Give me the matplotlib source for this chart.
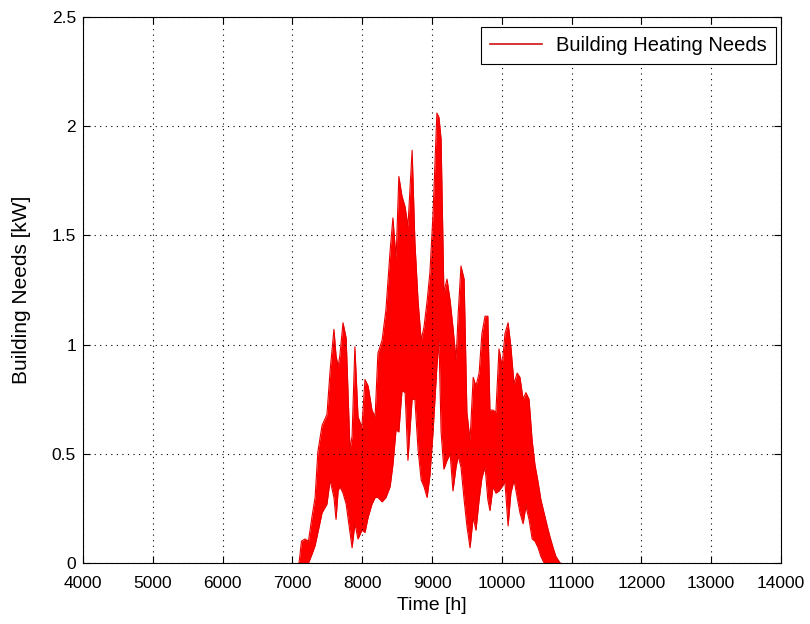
import matplotlib
matplotlib.use("Agg")
import matplotlib.pyplot as plt
from matplotlib.lines import Line2D

# envelope of the dense hourly signal
time_h = [7095, 7130, 7180, 7230, 7280, 7325, 7365, 7425, 7495, 7540,
          7595, 7625, 7655, 7680, 7725, 7770, 7825, 7855, 7895, 7940,
          7995, 8040, 8085, 8140, 8185, 8225, 8285, 8340, 8400, 8440,
          8485, 8525, 8570, 8615, 8655, 8715, 8755, 8800, 8845, 8885,
          8930, 8970, 9015, 9070, 9100, 9130, 9170, 9215, 9260, 9300,
          9345, 9375, 9415, 9460, 9500, 9545, 9590, 9630, 9675, 9715,
          9760, 9800, 9830, 9875, 9915, 9960, 10005, 10045, 10090, 10130,
          10175, 10220, 10260, 10305, 10345, 10390, 10435, 10475, 10520, 10560,
          10605, 10650, 10690, 10735, 10775, 10835]
upper_kw = [0.00, 0.10, 0.11, 0.10, 0.21, 0.30, 0.51, 0.63, 0.68, 0.88,
            1.07, 0.95, 0.90, 0.95, 1.10, 1.03, 0.52, 0.58, 0.99, 0.67,
            0.62, 0.84, 0.81, 0.70, 0.67, 0.96, 1.02, 1.16, 1.43, 1.58,
            1.39, 1.77, 1.68, 1.63, 1.54, 1.89, 1.47, 1.20, 1.02, 1.08,
            1.20, 1.33, 1.60, 2.06, 2.04, 1.94, 1.24, 1.30, 1.20, 1.08,
            0.93, 1.14, 1.36, 1.30, 0.69, 0.56, 0.85, 0.81, 0.87, 1.05,
            1.13, 1.13, 0.70, 0.70, 0.69, 0.98, 0.90, 1.05, 1.10, 0.99,
            0.82, 0.87, 0.85, 0.75, 0.78, 0.75, 0.56, 0.45, 0.37, 0.29,
            0.23, 0.17, 0.12, 0.07, 0.03, 0.00]
lower_kw = [0.00, 0.00, 0.00, 0.00, 0.04, 0.08, 0.14, 0.23, 0.27, 0.38,
            0.30, 0.20, 0.33, 0.35, 0.32, 0.27, 0.14, 0.07, 0.18, 0.11,
            0.15, 0.14, 0.21, 0.27, 0.30, 0.30, 0.28, 0.30, 0.35, 0.45,
            0.61, 0.60, 0.79, 0.78, 0.47, 0.75, 0.75, 0.52, 0.38, 0.35,
            0.30, 0.40, 0.60, 0.90, 1.02, 0.60, 0.43, 0.47, 0.50, 0.33,
            0.44, 0.49, 0.44, 0.29, 0.17, 0.07, 0.21, 0.15, 0.29, 0.39,
            0.44, 0.29, 0.24, 0.35, 0.32, 0.33, 0.35, 0.37, 0.17, 0.32,
            0.38, 0.30, 0.23, 0.18, 0.26, 0.20, 0.11, 0.10, 0.07, 0.03,
            0.00, 0.00, 0.00, 0.00, 0.00, 0.00]

xticks = [4000, 5000, 6000, 7000, 8000, 9000, 10000, 11000, 12000, 13000, 14000]
yticks = [0, 0.5, 1, 1.5, 2, 2.5]
ytick_labels = ["0", "0.5", "1", "1.5", "2", "2.5"]

plt.rcParams['font.family'] = ["Liberation Sans", "DejaVu Sans"]

fig = plt.figure(figsize=(8.1, 6.24), dpi=100)
ax = fig.add_axes([83/810, 1-563/624, (781-83)/810, (563-17)/624])

ax.fill_between(time_h, lower_kw, upper_kw, color="#ff0000", linewidth=0)
ax.plot(time_h, upper_kw, color="#e80000", linewidth=0.8)
ax.plot(time_h, lower_kw, color="#e80000", linewidth=0.8)

ax.set_xlim(4000, 14000)
ax.set_ylim(0, 2.5)
ax.set_xticks(xticks)
ax.set_xticklabels([str(v) for v in xticks])
ax.set_yticks(yticks)
ax.set_yticklabels(ytick_labels)
ax.grid(True, color="black", linestyle=(0, (1, 4)), linewidth=0.8)
ax.tick_params(direction="in", top=True, right=True, length=5, width=0.8,
               labelsize=12.5, colors="black")
ax.tick_params(axis="x", pad=9)
ax.tick_params(axis="y", pad=5)
for s in ax.spines.values():
    s.set_linewidth(0.8)
    s.set_color("black")

ax.set_xlabel("Time [h]", fontsize=14, labelpad=5)
ax.set_ylabel("Building Needs [kW]", fontsize=15, labelpad=15)

h = Line2D([], [], color="#d01010", linewidth=1.2)
leg = ax.legend([h], ["Building Heating Needs"], loc="upper right", fontsize=14.5,
                fancybox=False, framealpha=1, edgecolor="black", handlelength=2.6,
                handletextpad=0.7, borderpad=0.45, borderaxespad=0,
                bbox_to_anchor=(776/810, 1-27/624), bbox_transform=fig.transFigure)
leg.get_frame().set_linewidth(0.8)

fig.savefig("out.png", dpi=100, facecolor="white")
